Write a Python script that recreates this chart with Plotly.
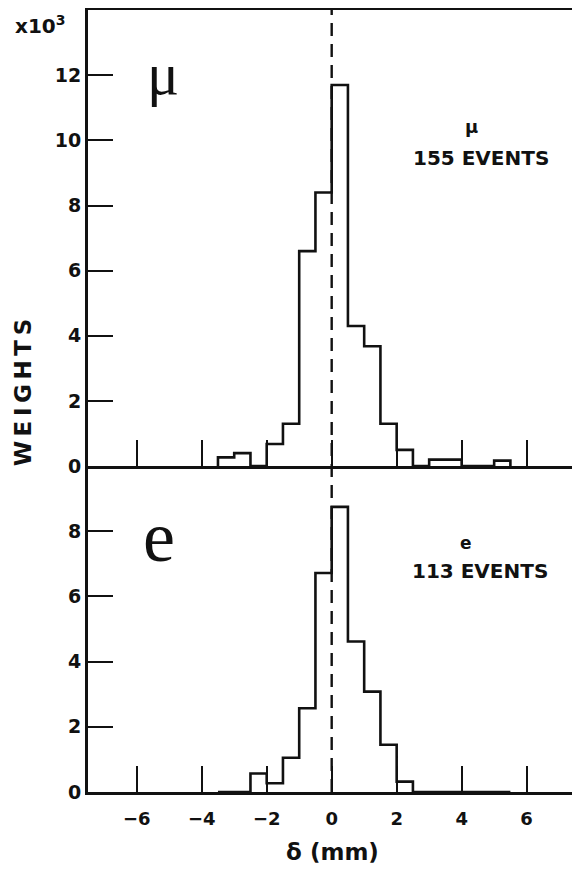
import plotly.graph_objects as go

# ---------------- data ----------------
bin_edges = [-3.5, -3.0, -2.5, -2.0, -1.5, -1.0, -0.5, 0.0, 0.5, 1.0, 1.5,
             2.0, 2.5, 3.0, 3.5, 4.0, 4.5, 5.0, 5.5]
mu_weights = [0.27, 0.40, 0.0, 0.68, 1.30, 6.60, 8.40, 11.70, 4.30, 3.68, 1.30,
              0.50, 0.0, 0.20, 0.20, 0.0, 0.0, 0.17]
e_weights = [0.0, 0.0, 0.57, 0.27, 1.05, 2.57, 6.72, 8.75, 4.62, 3.08, 1.45,
             0.32, 0.0, 0.0, 0.0, 0.0, 0.0, 0.0]

x_ticks = [-6, -4, -2, 0, 2, 4, 6]
x_ticklabels = ["\u22126", "\u22124", "\u22122", "0", "2", "4", "6"]
mu_yticks = [0, 2, 4, 6, 8, 10, 12]
e_yticks = [0, 2, 4, 6, 8]
ref_x = 0.0

mu_label = "μ"
mu_events = "155 EVENTS"
e_label = "e"
e_events = "113 EVENTS"
y_title = "\u2009".join("WEIGHTS")


def step_xy(edges, vals):
    xs = [edges[0]] + list(edges[:-1]) + [edges[-1], edges[-1]]
    ys = [0] + list(vals) + [vals[-1], 0]
    return xs, ys


FONT = "DejaVu Sans"
BLACK = "#111111"

fig = go.Figure()

mx, my = step_xy(bin_edges, mu_weights)
ex, ey = step_xy(bin_edges, e_weights)

fig.add_trace(go.Scatter(x=mx, y=my, mode="lines", line_shape="hv",
                         line=dict(color=BLACK, width=2.6),
                         xaxis="x2", yaxis="y2", showlegend=False, hoverinfo="skip"))
fig.add_trace(go.Scatter(x=ex, y=ey, mode="lines", line_shape="hv",
                         line=dict(color=BLACK, width=2.6),
                         xaxis="x", yaxis="y", showlegend=False, hoverinfo="skip"))

split = 10 / 24

common_x = dict(range=[-7.5, 7.55], tickmode="array", tickvals=x_ticks,
                ticks="inside", ticklen=26, tickwidth=2, tickcolor=BLACK,
                showline=True, linewidth=3, linecolor=BLACK,
                showgrid=False, zeroline=False, automargin=False)

tickfont = dict(family=FONT, size=19, color=BLACK, weight="bold")

common_y = dict(tickmode="array", ticks="inside", ticklen=25, tickwidth=2, tickcolor=BLACK,
                showline=True, linewidth=3, linecolor=BLACK,
                showgrid=False, zeroline=False, tickfont=tickfont, automargin=False)

# page body adds an 8px offset; figure is sized so the plot frame lands where the reference has it
fig.update_layout(
    width=572, height=862,
    margin=dict(l=80, r=3, t=2, b=78),
    paper_bgcolor="white", plot_bgcolor="white",
    xaxis=dict(**common_x, anchor="y", ticktext=x_ticklabels,
               tickfont=dict(family=FONT, size=18, color=BLACK, weight="bold"),
               showticklabels=True, ticklabelstandoff=8,
               title=dict(text="δ (mm)", font=dict(family=FONT, size=23, color=BLACK, weight="bold"),
                          standoff=17)),
    xaxis2=dict(**common_x, anchor="y2", matches="x", showticklabels=False,
                mirror=True),
    yaxis=dict(**common_y, domain=[0, split], range=[0, 10], tickvals=e_yticks),
    yaxis2=dict(**common_y, domain=[split, 1], range=[0, 14], tickvals=mu_yticks),
)

# reference dashed line at x = 0 through both panels
fig.add_shape(type="line", xref="x", yref="paper", x0=ref_x, x1=ref_x, y0=0, y1=1,
              line=dict(color=BLACK, width=2.4, dash="13px,8px"))
# thin right border for both panels
fig.add_shape(type="line", xref="paper", yref="paper", x0=1, x1=1, y0=0, y1=1,
              line=dict(color="#333333", width=1.6))

ann_font = dict(family=FONT, size=20, color=BLACK, weight="bold")

fig.add_annotation(text="x10<sup>3</sup>", xref="paper", yref="paper",
                   x=-0.153, y=0.981, xanchor="left", yanchor="middle",
                   showarrow=False, font=dict(family=FONT, size=20, color=BLACK, weight="bold"))
fig.add_annotation(text=y_title, xref="paper", yref="paper", textangle=-90,
                   x=-0.133, y=0.511, xanchor="center", yanchor="middle",
                   showarrow=False, font=dict(family=FONT, size=23, color=BLACK, weight="bold"))

# big serif panel labels
fig.add_annotation(text=mu_label, xref="paper", yref="paper", x=0.153, y=0.918,
                   xanchor="center", yanchor="middle", showarrow=False,
                   font=dict(family="Liberation Serif", size=60, color=BLACK))
fig.add_annotation(text=e_label, xref="paper", yref="paper", x=0.145, y=0.326,
                   xanchor="center", yanchor="middle", showarrow=False,
                   font=dict(family="Liberation Serif", size=72, color=BLACK))

# event counts
fig.add_annotation(text=mu_label, xref="paper", yref="paper", x=0.785, y=0.851,
                   xanchor="center", yanchor="middle", showarrow=False,
                   font=dict(family=FONT, size=18, color=BLACK, weight="bold"))
fig.add_annotation(text=mu_events, xref="paper", yref="paper", x=0.804, y=0.811,
                   xanchor="center", yanchor="middle", showarrow=False, font=ann_font)
fig.add_annotation(text=e_label, xref="paper", yref="paper", x=0.772, y=0.318,
                   xanchor="center", yanchor="middle", showarrow=False,
                   font=dict(family=FONT, size=17, color=BLACK, weight="bold"))
fig.add_annotation(text=e_events, xref="paper", yref="paper", x=0.802, y=0.283,
                   xanchor="center", yanchor="middle", showarrow=False, font=ann_font)

fig.write_html("out.html")
